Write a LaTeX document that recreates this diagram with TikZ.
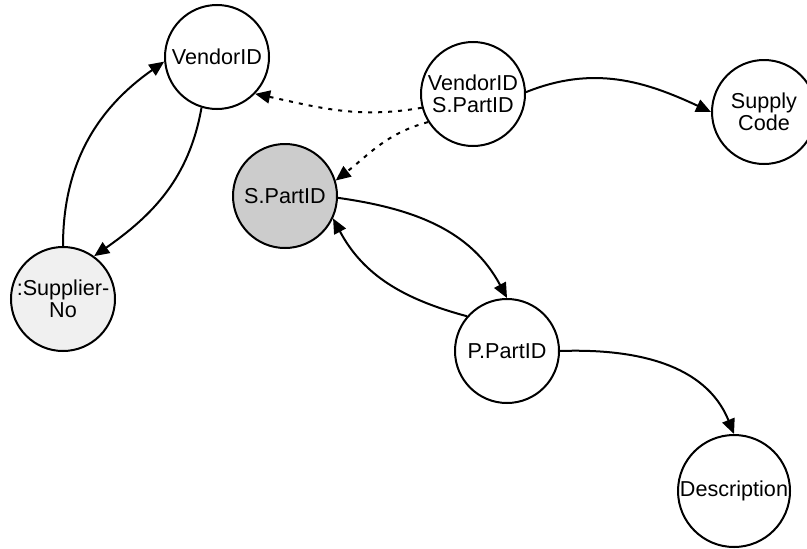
\documentclass[tikz,border=0pt]{standalone}
\usepackage{fontspec}
\setmainfont{Liberation Sans}
\usetikzlibrary{arrows.meta,positioning}

\tikzset{
  attr/.style={circle, draw, line width=1pt, minimum size=52pt, inner sep=0pt,
    align=center, font=\fontsize{10.8}{11}\selectfont},
  keyattr/.style={attr, fill=black!20},
  linkattr/.style={attr, fill=black!6},
  fd/.style={-{Triangle[length=7.5pt,width=6.5pt]}, line width=1pt},
  mv/.style={fd, dash pattern=on 2pt off 3pt}
}

\begin{document}
\begin{tikzpicture}[x=0.5pt,y=0.5pt]
\useasboundingbox (0,0) rectangle (807,548);
\node[attr] (vendor) at (217,491) {VendorID};
\node[attr] (vspart) at (473,454) {VendorID\\S.PartID};
\node[attr] (supply) at (764,436) {Supply\\Code};
\node[keyattr] (spart) at (285,352) {S.PartID};
\node[linkattr] (supno) at (63,249) {:Supplier-\\No};
\node[attr] (ppart) at (507,197) {P.PartID};
\node[attr, minimum size=56pt] (descr) at (734,57) {Description};
% solid dependencies
\draw[fd] (supno.90) to[out=90,in=215] (vendor.185);
\draw[fd] (vendor.253) to[out=260,in=35] (supno.54);
\draw[fd] (vspart.2) to[out=22,in=155] (supply.180);
\draw[fd] (spart.-2) to[out=-8,in=118] (ppart.90);
\draw[fd] (ppart.139) to[out=165,in=298] (spart.335);
\draw[fd] (ppart.0) to[out=2,in=112] (descr.90);
% dotted ones
\draw[mv] (vspart.195) to[out=190,in=-12] (vendor.316);
\draw[mv] (vspart.212) to[out=195,in=38] (spart.17);
\end{tikzpicture}
\end{document}
